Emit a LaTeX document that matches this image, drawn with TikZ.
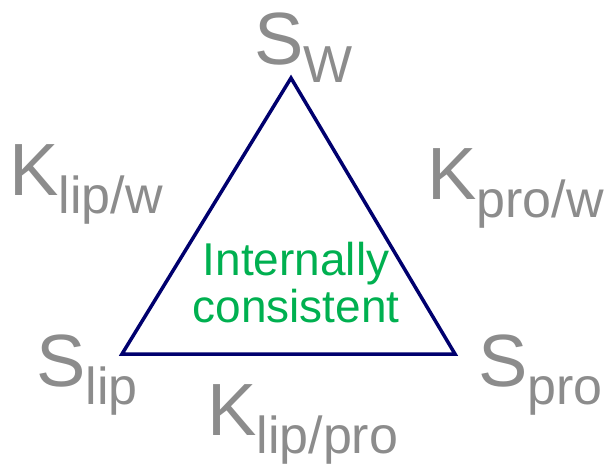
\documentclass[tikz,border=0pt]{standalone}
\usepackage{fontspec}
\setmainfont{Liberation Sans}
\usepackage{xcolor}
\usetikzlibrary{positioning}

\definecolor{lblgray}{RGB}{140,140,140}
\definecolor{edgenavy}{RGB}{0,0,110}
\definecolor{okgreen}{RGB}{0,176,80}

% main letter with a lowered subscript
\newcommand{\phaselab}[2]{{\fontsize{74bp}{74bp}\selectfont #1}\raisebox{-18bp}{\fontsize{52bp}{52bp}\selectfont #2}}

\begin{document}
\begin{tikzpicture}[
  x=1bp,y=-1bp,
  lab/.style={anchor=base west,inner sep=0pt,text=lblgray},
  edge/.style={draw=edgenavy,line width=3.5bp,line join=miter},
  note/.style={align=center,inner sep=0pt,text=okgreen,
               font=\fontsize{46bp}{47bp}\selectfont},
]
\useasboundingbox (0,0) rectangle (608,468);

% triangle corners
\coordinate (w) at (291,78);
\coordinate (lip) at (122,354);
\coordinate (pro) at (455,354);
\draw[edge] (w) -- (lip) -- (pro) -- cycle;

% phases at the corners
\node[lab] (sw) at (254,65) {\phaselab{S}{W}};
\node[lab] (slip) at (36,386) {\phaselab{S}{lip}};
\node[lab] (spro) at (478,386) {\phaselab{S}{pro}};

% partition coefficients along the edges
\node[lab] (klipw) at (9,196) {\phaselab{K}{lip/w}};
\node[lab] (kprow) at (427,200) {\phaselab{K}{pro/w}};
\node[lab] (klippro) at (207,435) {\phaselab{K}{lip/pro}};

\node[note,anchor=north] (cons) at (296,242) {Internally\\consistent};
\end{tikzpicture}
\end{document}
